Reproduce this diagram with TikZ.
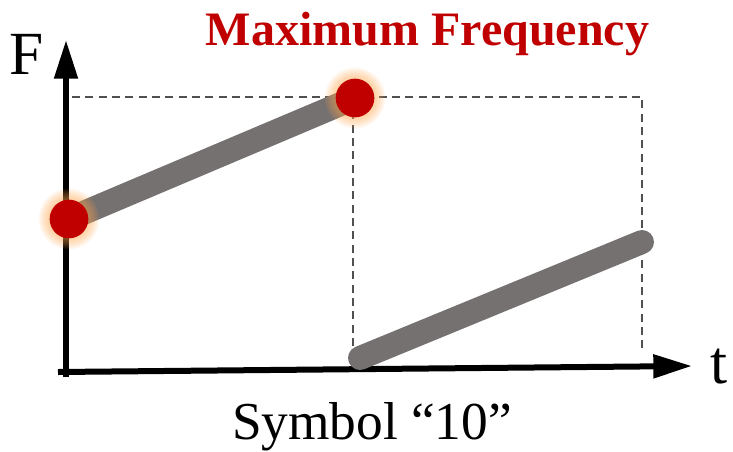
\documentclass[tikz,border=0pt]{standalone}
\usepackage{fontspec}
\setmainfont{Liberation Serif}
\newfontfamily\timesfont{Liberation Serif}
\usetikzlibrary{arrows.meta}
\definecolor{maxred}{HTML}{C00000}
\definecolor{chirpgray}{HTML}{767171}
\definecolor{dashgray}{HTML}{505050}
\begin{document}
\begin{tikzpicture}[
    x=0.75pt, y=-0.75pt,
    axis/.style={line width=4.5pt, -{Triangle[length=29pt, width=17pt]}},
    grid/.style={dashgray, line width=1.8pt, dash pattern=on 6pt off 4pt},
    chirp/.style={chirpgray, line width=18pt, line cap=round},
    dot/.style={circle, fill=maxred, minimum size=29pt, inner sep=0pt},
    glow/.style={orange!70, opacity=0.06},
    lbl/.style={font=\timesfont\fontsize{46}{50}\selectfont, inner sep=0pt}
]
\useasboundingbox (0,0) rectangle (733,451);
% --- points ---
\coordinate (fmin) at (69,219);
\coordinate (fmax) at (355,98);
\coordinate (cstart) at (360,358);
\coordinate (cend) at (642,242);

% --- dashed guides ---
\draw[grid] (72,97) -- (642,97) -- (642,352);
\draw[grid] (353,98) -- (353,365);

% --- axes ---
\draw[axis] (58,372) -- (692,366);
\draw[axis] (66,377) -- (66,40);
\node[lbl] (flbl) at (27,54) {F};
\node[lbl] (tlbl) at (719,367) {t};

% --- chirps ---
\draw[chirp] (fmin) -- (fmax);
\draw[chirp] (cstart) -- (cend);

% --- glowing dots ---
\foreach \p in {fmin,fmax}
  \foreach \g in {1,...,11}
    \fill[glow] (\p) circle[radius={19.5+\g}];
\node[dot] (dmin) at (fmin) {};
\node[dot] (dmax) at (fmax) {};

% --- texts ---
\node[anchor=base, inner sep=0pt, text=maxred, font=\timesfont\bfseries\fontsize{36}{40}\selectfont] (title) at (427.5,45) {Maximum Frequency};
\node[anchor=base, inner sep=0pt, font=\timesfont\fontsize{40}{44}\selectfont] (sym) at (372,439) {Symbol “10”};
\end{tikzpicture}
\end{document}
